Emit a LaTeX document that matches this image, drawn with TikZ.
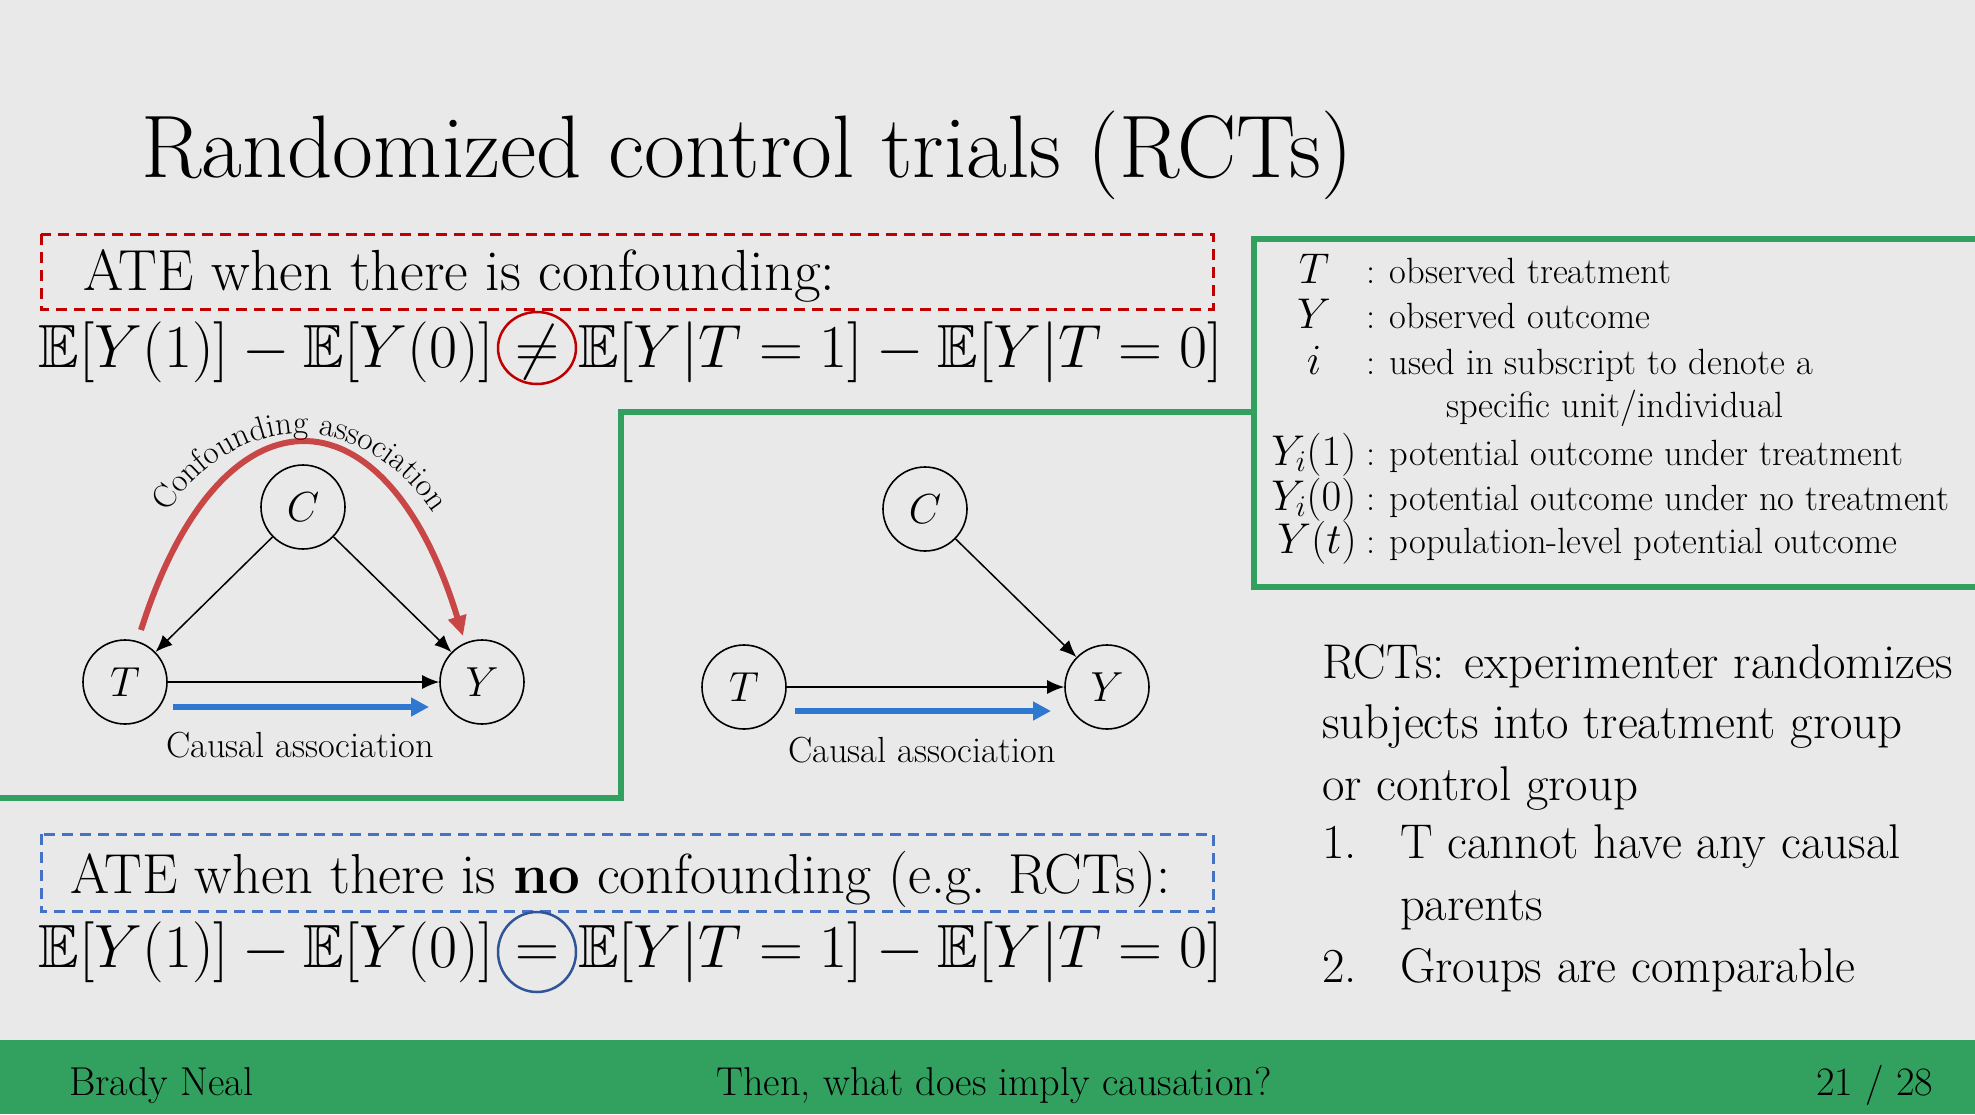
\RequirePackage{fix-cm}
\documentclass[tikz,border=0pt]{standalone}
\usepackage{amssymb}
\usepackage{fontspec}
\usetikzlibrary{arrows.meta,shapes.geometric,decorations.text}
\newcommand{\setfs}[1]{\fontsize{#1}{#1}\selectfont}
\newcommand{\arcfont}{\fontsize{33}{33}\selectfont}
\definecolor{bgc}{RGB}{233,233,233}
\definecolor{slidegreen}{RGB}{50,160,94}
\definecolor{dashred}{RGB}{192,0,0}
\definecolor{dashblue}{RGB}{68,114,196}
\definecolor{arcred}{RGB}{200,70,70}
\definecolor{causalblue}{RGB}{46,120,210}
\definecolor{ringblue}{RGB}{47,85,151}
\begin{document}
\begin{tikzpicture}[x=1pt,y=-1pt,
  txt/.style={inner sep=0pt, outer sep=0pt, text=black},
  var/.style={circle, draw=black, line width=1.6pt, minimum size=84pt, inner sep=0pt, font=\setfs{42}},
  dagedge/.style={-{Latex[length=17pt,width=14pt]}, line width=1.5pt},
  causal/.style={causalblue, line width=6pt, -{Triangle[length=18pt,width=18pt]}},
  confound/.style={arcred, line width=6pt, -{Triangle[length=20pt,width=18pt]}},
  frame/.style={slidegreen, line width=6pt},
  dashbox/.style={line width=3pt, dash pattern=on 11pt off 7pt},
  ring/.style={ellipse, line width=2.5pt, minimum width=78pt, minimum height=72pt, inner sep=0pt},
  boxtxt/.style={txt, anchor=base west, font=\setfs{36.5}},
  boxmath/.style={txt, anchor=base, font=\setfs{43}},
  rcttxt/.style={txt, anchor=base west, font=\setfs{48.8}}
]
\fill[bgc] (0,0) rectangle (1975,1114);
\useasboundingbox (0,0) rectangle (1975,1114);

% title
\node[txt, anchor=base west, font=\setfs{88.8}] (title) at (141,177) {Randomized control trials (RCTs)};

% green frames
\draw[frame] (-5,798) -- (621,798) -- (621,412) -- (1254,412);
\draw[frame] (1985,239) -- (1254,239) -- (1254,587) -- (1985,587);

% confounding box
\draw[dashbox, dashred] (41,234) rectangle (1213,309);
\node[txt, anchor=base west, font=\setfs{58}] (ate1) at (83,290) {ATE when there is confounding:};
\node[txt, anchor=base east, font=\setfs{61}] (eq1l) at (494,367) {$\mathbb{E}[Y(1)]-\mathbb{E}[Y(0)]$};
\node[txt, anchor=base, font=\setfs{61}] (neq) at (537,367) {$\neq$};
\node[ring, draw=dashred] (neqring) at (537,348) {};
\node[txt, anchor=base west, font=\setfs{61}] (eq1r) at (578,367) {$\mathbb{E}[Y|T=1]-\mathbb{E}[Y|T=0]$};

% no-confounding box
\draw[dashbox, dashblue] (41,834) rectangle (1213,911);
\node[txt, anchor=base west, font=\setfs{56.4}] (ate2) at (70,893) {ATE when there is \textbf{no} confounding (e.g. RCTs):};
\node[txt, anchor=base east, font=\setfs{61}] (eq2l) at (494,967) {$\mathbb{E}[Y(1)]-\mathbb{E}[Y(0)]$};
\node[txt, anchor=base, font=\setfs{61}] (eqs) at (537,967) {$=$};
\node[ring, draw=ringblue, minimum height=80pt] (eqring) at (537,952) {};
\node[txt, anchor=base west, font=\setfs{61}] (eq2r) at (578,967) {$\mathbb{E}[Y|T=1]-\mathbb{E}[Y|T=0]$};

% left DAG
\node[var] (C1) at (303,507) {$C$};
\node[var] (T1) at (125,682) {$T$};
\node[var] (Y1) at (482,682) {$Y$};
\draw[dagedge] (C1) -- (T1);
\draw[dagedge] (C1) -- (Y1);
\draw[dagedge] (T1) -- (Y1);
\coordinate (b1s) at (173,707);
\coordinate (b1e) at (429,707);
\draw[causal] (b1s) -- (b1e);
\node[txt, anchor=base, font=\setfs{36.3}] (cl1) at (300,757) {Causal association};
\coordinate (r1s) at (141,630);
\coordinate (r1e) at (463,636);
\draw[confound] (r1s) .. controls (220,380) and (385,380) .. (r1e);
\path[decorate, decoration={text along path, text={|\arcfont|Confounding association}, text align=center}]
  (135,580) .. controls (200,385) and (400,385) .. (465,580);

% right DAG
\node[var] (C2) at (925,509) {$C$};
\node[var] (T2) at (744,687) {$T$};
\node[var] (Y2) at (1107,687) {$Y$};
\draw[dagedge] (C2) -- (Y2);
\draw[dagedge] (T2) -- (Y2);
\coordinate (b2s) at (795,711);
\coordinate (b2e) at (1051,711);
\draw[causal] (b2s) -- (b2e);
\node[txt, anchor=base, font=\setfs{36.3}] (cl2) at (922,762) {Causal association};

% notation box
\node[boxmath] (mT) at (1314,283) {$T$};
\node[boxtxt] (dT) at (1366,283) {: observed treatment};
\node[boxmath] (mY) at (1314,328) {$Y$};
\node[boxtxt] (dY) at (1366,328) {: observed outcome};
\node[boxmath] (mi) at (1314,374) {$i$};
\node[boxtxt] (di) at (1366,374) {: used in subscript to denote a};
\node[boxtxt] (di2) at (1446,417) {specific unit/individual};
\node[boxmath] (mY1) at (1314,465) {$Y_i(1)$};
\node[boxtxt] (dY1) at (1366,465) {: potential outcome under treatment};
\node[boxmath] (mY0) at (1314,510) {$Y_i(0)$};
\node[boxtxt] (dY0) at (1366,510) {: potential outcome under no treatment};
\node[boxmath] (mYt) at (1317,553) {$Y(t)$};
\node[boxtxt] (dYt) at (1366,553) {: population-level potential outcome};

% RCT text
\node[rcttxt] (r1) at (1322,678) {RCTs: experimenter randomizes};
\node[rcttxt] (r2) at (1322,738) {subjects into treatment group};
\node[rcttxt] (r3) at (1322,800) {or control group};
\node[rcttxt] (n1) at (1322,858) {1.};
\node[rcttxt] (i1) at (1400,858) {T cannot have any causal};
\node[rcttxt] (i1b) at (1400,920) {parents};
\node[rcttxt] (n2) at (1322,982) {2.};
\node[rcttxt] (i2) at (1400,982) {Groups are comparable};

% footer
\fill[slidegreen] (0,1040) rectangle (1975,1114);
\node[txt, anchor=base west, font=\setfs{40.3}] (f1) at (69,1095) {Brady Neal};
\node[txt, anchor=base, font=\setfs{40.3}] (f2) at (994,1095) {Then, what does imply causation?};
\node[txt, anchor=base east, font=\setfs{40.3}] (f3) at (1933,1095) {21 / 28};
\end{tikzpicture}
\end{document}
